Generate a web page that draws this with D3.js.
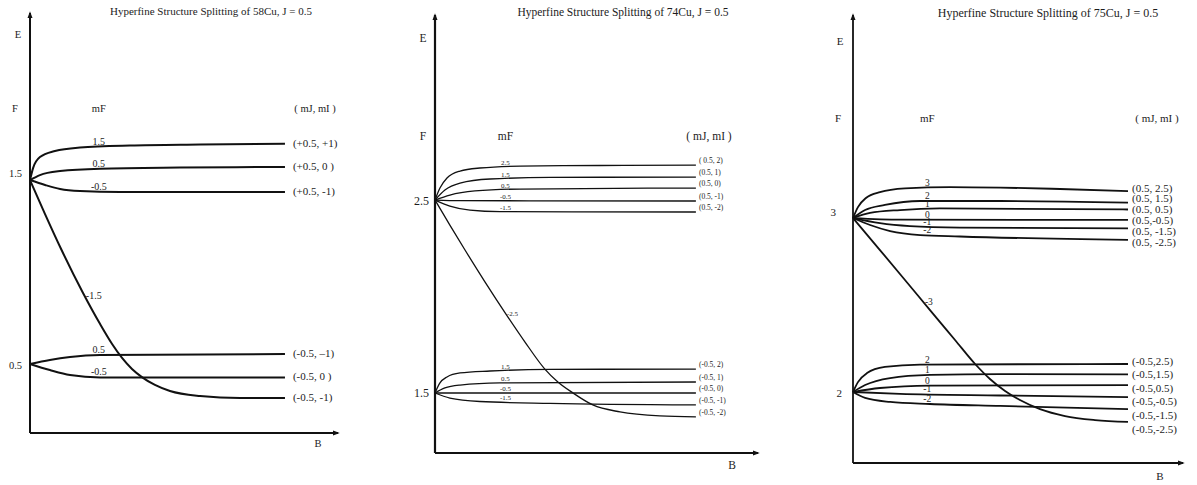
<!DOCTYPE html>
<html>
<head>
<meta charset="utf-8">
<script src="https://cdn.jsdelivr.net/npm/d3@7"></script>
<style>
  body { margin: 0; background: #fff; }
  svg { display: block; }
  text { font-family: "Liberation Serif", "DejaVu Serif", serif; fill: #1c1c1c; }
</style>
</head>
<body>
<svg id="chart" width="1197" height="485"></svg>
<script>
// ---- Breit–Rabi style hyperfine splitting of three copper isotopes (J = 1/2) ----

const titles = [
  "Hyperfine Structure Splitting of 58Cu, J = 0.5",
  "Hyperfine Structure Splitting of  74Cu, J = 0.5",
  "Hyperfine Structure Splitting of  75Cu, J = 0.5"
];

// F levels at zero field (tick labels on the E axis)
const levels58 = [1.5, 0.5];
const levels74 = [2.5, 1.5];
const levels75 = [3, 2];

// sublevel curves: [B, E] points, mF label and strong-field state (mJ, mI)
const cu58Upper = [
  { mF: "1.5",  state: "(+0.5, +1)",  pts: [[0,1.5],[0.012,1.565],[0.039,1.625],[0.098,1.658],[0.196,1.677],[0.392,1.688],[0.667,1.693],[1,1.697]] },
  { mF: "0.5",  state: "(+0.5,  0 )", pts: [[0,1.5],[0.039,1.527],[0.118,1.549],[0.275,1.562],[0.588,1.568],[1,1.571]] },
  { mF: "-0.5", state: "(+0.5, -1)",  pts: [[0,1.5],[0.059,1.473],[0.118,1.451],[0.196,1.440],[0.353,1.435],[1,1.435]] }
];
const cu58Lower = [
  { mF: "0.5",  state: "(-0.5, \u20131)", pts: [[0,0.5],[0.078,0.522],[0.157,0.538],[0.275,0.549],[1,0.554]] },
  { mF: "-0.5", state: "(-0.5, 0 )",     pts: [[0,0.5],[0.078,0.467],[0.157,0.440],[0.275,0.427],[1,0.427]] },
  { mF: "-1.5", state: "(-0.5, -1)", labelAt: 0.215,
    pts: [[0,1.5],[0.059,1.315],[0.122,1.125],[0.208,0.886],[0.275,0.717],[0.322,0.609],[0.361,0.533],[0.400,0.473],[0.439,0.429],[0.490,0.386],[0.549,0.353],[0.667,0.326],[0.824,0.315],[1,0.315]] }
];

const cu74Upper = [
  { mF: "2.5",  state: "( 0.5, 2)",  pts: [[0,2.5],[0.019,2.562],[0.046,2.614],[0.096,2.650],[0.172,2.666],[0.326,2.676],[0.632,2.679],[1,2.681]] },
  { mF: "1.5",  state: "(0.5, 1)",   pts: [[0,2.5],[0.038,2.552],[0.096,2.588],[0.211,2.609],[0.441,2.617],[1,2.619]] },
  { mF: "0.5",  state: "(0.5, 0)",   pts: [[0,2.5],[0.057,2.526],[0.153,2.547],[0.326,2.557],[1,2.562]] },
  { mF: "-0.5", state: "(0.5, -1)",  pts: [[0,2.5],[0.096,2.497],[1,2.495]] },
  { mF: "-1.5", state: "(0.5, -2)",  pts: [[0,2.5],[0.057,2.469],[0.134,2.448],[0.249,2.440],[1,2.438]] }
];
const cu74Lower = [
  { mF: "1.5",  state: "(-0.5, 2)",  pts: [[0,1.5],[0.019,1.552],[0.046,1.583],[0.096,1.604],[0.211,1.614],[0.441,1.622],[1,1.624]] },
  { mF: "0.5",  state: "(-0.5, 1)",  pts: [[0,1.5],[0.038,1.526],[0.096,1.541],[0.249,1.552],[1,1.557]] },
  { mF: "-0.5", state: "(-0.5, 0)",  pts: [[0,1.5],[1,1.5]] },
  { mF: "-1.5", state: "(-0.5, -1)", pts: [[0,1.5],[0.057,1.474],[0.172,1.456],[0.441,1.446],[1,1.438]] },
  { mF: "-2.5", state: "(-0.5, -2)", labelAt: 0.272,
    pts: [[0,2.5],[0.057,2.370],[0.115,2.241],[0.192,2.075],[0.272,1.909],[0.345,1.764],[0.421,1.624],[0.471,1.557],[0.529,1.5],[0.605,1.438],[0.709,1.402],[0.862,1.381],[1,1.376]] }
];

const cu75Upper = [
  { mF: "3",  state: "(0.5, 2.5)",  pts: [[0,3],[0.018,3.063],[0.047,3.115],[0.098,3.149],[0.189,3.170],[0.353,3.178],[0.535,3.175],[0.753,3.167],[1,3.155]] },
  { mF: "2",  state: "(0.5, 1.5)",  pts: [[0,3],[0.044,3.046],[0.116,3.075],[0.244,3.098],[0.535,3.098],[1,3.089]] },
  { mF: "1",  state: "(0.5, 0.5)",  pts: [[0,3],[0.062,3.029],[0.171,3.046],[0.316,3.055],[1,3.049]] },
  { mF: "0",  state: "(0.5,-0.5)",  pts: [[0,3],[0.171,2.991],[1,2.989]] },
  { mF: "-1", state: "(0.5, -1.5)", pts: [[0,3],[0.098,2.971],[0.207,2.954],[0.389,2.945],[1,2.940]] },
  { mF: "-2", state: "(0.5, -2.5)", pts: [[0,3],[0.062,2.960],[0.135,2.925],[0.244,2.902],[0.389,2.894],[1,2.874]] }
];
const cu75Lower = [
  { mF: "2",  state: "(-0.5,2.5)",  pts: [[0,2],[0.018,2.057],[0.051,2.109],[0.116,2.144],[0.244,2.158],[1,2.161]] },
  { mF: "1",  state: "(-0.5,1.5)",  pts: [[0,2],[0.044,2.040],[0.135,2.080],[0.280,2.098],[0.535,2.103],[1,2.101]] },
  { mF: "0",  state: "(-0.5,0.5)",  pts: [[0,2],[0.098,2.023],[0.280,2.037],[1,2.040]] },
  { mF: "-1", state: "(-0.5,-0.5)", pts: [[0,2],[0.171,1.989],[0.535,1.980],[1,1.971]] },
  { mF: "-2", state: "(-0.5,-1.5)", pts: [[0,2],[0.044,1.966],[0.135,1.943],[0.280,1.931],[0.535,1.920],[1,1.902]] },
  { mF: "-3", state: "(-0.5,-2.5)", labelAt: 0.258,
    pts: [[0,3],[0.098,2.816],[0.189,2.644],[0.280,2.471],[0.371,2.299],[0.444,2.161],[0.498,2.075],[0.553,2.006],[0.607,1.954],[0.680,1.902],[0.771,1.862],[0.880,1.839],[1,1.828]] }
];

// B position of the mF label column
const mFColumnB = 0.27;

// ---- panel layout (pixels) ----
const panels = [
  {
    title: titles[0], levels: levels58, groups: [cu58Upper, cu58Lower],
    x0: 30, xAxisEnd: 338, bMax: 1.208, yBottom: 433, yTop: 13, eBottom: 0.125, eTop: 2.408,
    titleX: 211, titleY: 15, titleSize: 11,
    eLabel: [18, 36], fLabel: [15, 110], headerY: 110, stateHeaderX: 315, bLabel: [318, 445],
    tickPad: [8, 8], tickDy: [-8, 0], tickSize: 10.5, headSize: 10.5,
    lineW: 2, axisW: 2, mFSize: 10, mFGap: 2, stateSize: 11, stateGap: 8, stateDy: 0.5
  },
  {
    title: titles[1], levels: levels74, groups: [cu74Upper, cu74Lower],
    x0: 435, xAxisEnd: 758, bMax: 1.238, yBottom: 453, yTop: 15, eBottom: 1.189, eTop: 3.459,
    titleX: 623, titleY: 16, titleSize: 11.5,
    eLabel: [423, 39], fLabel: [423, 137], headerY: 137, stateHeaderX: 709, bLabel: [732, 466],
    tickPad: [6, 6], tickDy: [0, 0], tickSize: 12, headSize: 11.5,
    lineW: 1.3, axisW: 2.2, mFSize: 7, mFGap: 2, stateSize: 7.5, stateGap: 3, stateDy: -3.5
  },
  {
    title: titles[2], levels: levels75, groups: [cu75Upper, cu75Lower],
    x0: 853, xAxisEnd: 1183, bMax: 1.2, yBottom: 463, yTop: 15, eBottom: 1.592, eTop: 4.167,
    titleX: 1048, titleY: 17, titleSize: 12,
    eLabel: [840, 42], fLabel: [838, 119], headerY: 119, stateHeaderX: 1157, bLabel: [1160, 477],
    tickPad: [17, 11], tickDy: [-7, 0], tickSize: 11, headSize: 11,
    lineW: 1.8, axisW: 1.8, mFSize: 9.5, mFGap: 2, stateSize: 11, stateGap: 4, stateDy: 0,
    stack: [[189, 10.8], [362, 13.6]]
  }
];

const svg = d3.select("#chart");

svg.append("defs").append("marker")
  .attr("id", "arrow")
  .attr("viewBox", "0 -4 8 8")
  .attr("refX", 6).attr("refY", 0)
  .attr("markerWidth", 7).attr("markerHeight", 7)
  .attr("markerUnits", "userSpaceOnUse")
  .attr("orient", "auto")
  .append("path").attr("d", "M0,-3L8,0L0,3Z").attr("fill", "#111");

// linear lookup of E at a given B along a curve
function eAt(pts, b) {
  for (let i = 1; i < pts.length; i++) {
    if (b <= pts[i][0]) {
      const [b0, e0] = pts[i - 1], [b1, e1] = pts[i];
      return e0 + (e1 - e0) * (b - b0) / (b1 - b0);
    }
  }
  return pts[pts.length - 1][1];
}

function drawPanel(p) {
  const g = svg.append("g");
  const x = d3.scaleLinear().domain([0, p.bMax]).range([p.x0, p.xAxisEnd]);
  const y = d3.scaleLinear().domain([p.eBottom, p.eTop]).range([p.yBottom, p.yTop]);

  // title
  g.append("text").attr("x", p.titleX).attr("y", p.titleY)
    .attr("text-anchor", "middle").style("font-size", p.titleSize + "px").text(p.title);

  // axes with arrowheads
  g.append("line").attr("x1", x(0)).attr("y1", y(p.eBottom)).attr("x2", x(0)).attr("y2", y(p.eTop))
    .attr("stroke", "#111").attr("stroke-width", p.axisW).attr("marker-end", "url(#arrow)");
  g.append("line").attr("x1", x(0)).attr("y1", y(p.eBottom)).attr("x2", x(p.bMax)).attr("y2", y(p.eBottom))
    .attr("stroke", "#111").attr("stroke-width", p.axisW).attr("marker-end", "url(#arrow)");

  // F level ticks on the energy axis
  const yAxis = g.append("g").attr("transform", `translate(${x(0)},0)`)
    .call(d3.axisLeft(y).tickValues(p.levels).tickSize(0).tickFormat(d => String(d)));
  yAxis.select(".domain").remove();
  yAxis.selectAll(".tick text")
    .attr("x", (d, i) => -p.tickPad[i])
    .attr("dy", (d, i) => (p.tickDy[i] + 4) + "px")
    .style("font-size", p.tickSize + "px")
    .style("font-family", "'Liberation Serif', serif")
    .attr("fill", "#1c1c1c");

  // axis and column headings
  const head = (txt, xx, yy, size, anchor) =>
    g.append("text").attr("x", xx).attr("y", yy).attr("text-anchor", anchor || "middle")
      .attr("dominant-baseline", "middle").style("font-size", size + "px").text(txt);
  head("E", p.eLabel[0], p.eLabel[1], p.headSize);
  head("F", p.fLabel[0], p.fLabel[1], p.headSize);
  head("mF", x(mFColumnB), p.headerY, p.headSize);
  head("( mJ, mI )", p.stateHeaderX, p.headerY, p.headSize);
  head("B", p.bLabel[0], p.bLabel[1], p.headSize);

  const line = d3.line().x(d => x(d[0])).y(d => y(d[1])).curve(d3.curveMonotoneX);

  p.groups.forEach((group, gi) => {
    group.forEach((c, ci) => {
      g.append("path").attr("d", line(c.pts)).attr("fill", "none")
        .attr("stroke", "#111").attr("stroke-width", p.lineW);

      // mF label
      if (c.labelAt !== undefined) {
        g.append("text").attr("x", x(c.labelAt) + 1).attr("y", y(eAt(c.pts, c.labelAt)))
          .attr("dominant-baseline", "middle").style("font-size", p.mFSize + "px").text(c.mF);
      } else {
        g.append("text").attr("x", x(mFColumnB)).attr("y", y(eAt(c.pts, mFColumnB)) - p.mFGap)
          .attr("text-anchor", "middle").style("font-size", p.mFSize + "px").text(c.mF);
      }

      // strong-field (mJ, mI) label at line end
      const end = c.pts[c.pts.length - 1];
      const ly = p.stack ? p.stack[gi][0] + ci * p.stack[gi][1] : y(end[1]) + p.stateDy;
      g.append("text").attr("x", x(end[0]) + p.stateGap).attr("y", ly)
        .attr("dominant-baseline", "middle").style("font-size", p.stateSize + "px").text(c.state);
    });
  });
}

panels.forEach(drawPanel);
</script>
</body>
</html>
